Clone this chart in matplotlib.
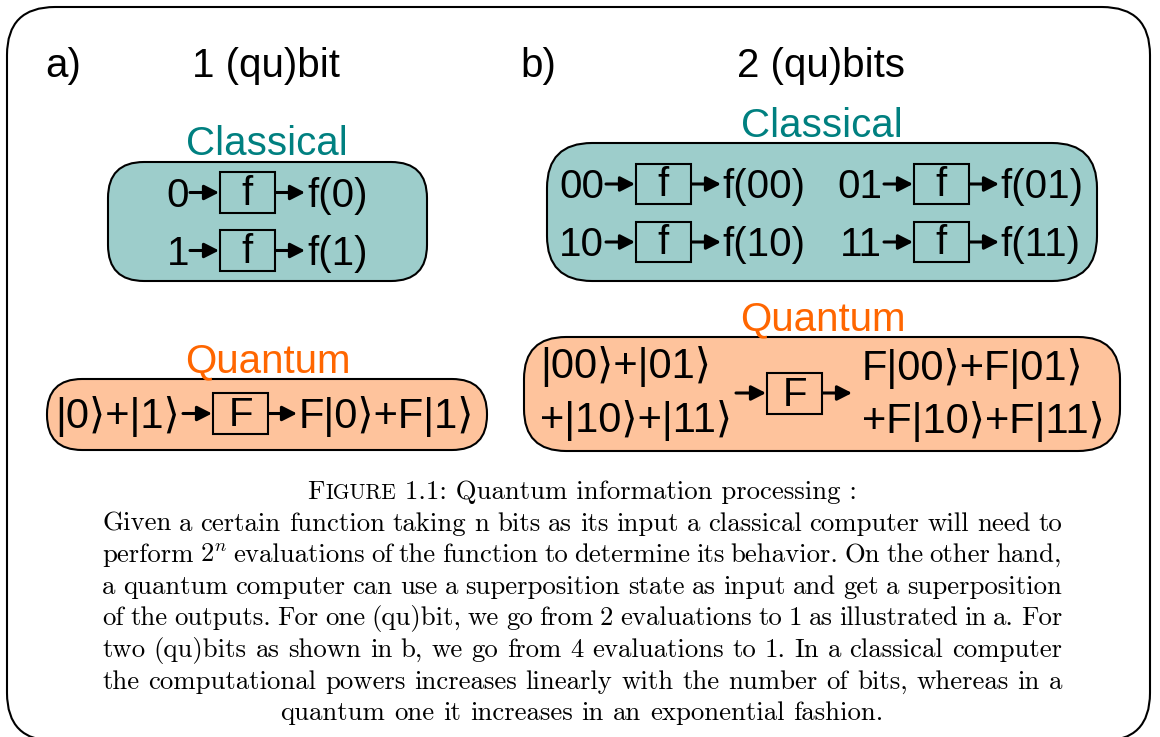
import matplotlib
matplotlib.use("Agg")
import matplotlib.pyplot as plt
from matplotlib.patches import FancyBboxPatch, Rectangle

plt.rcParams['mathtext.fontset'] = 'cm'

SANS = ['Liberation Sans', 'DejaVu Sans']
TEAL_FILL = '#9dcdcb'
TEAL_TEXT = '#008080'
ORANGE_FILL = '#fec39c'
ORANGE_TEXT = '#ff6600'

# labels
panel_labels = ['a)', 'b)']
panel_titles = ['1 (qu)bit', '2 (qu)bits']
group_labels = ['Classical', 'Quantum']

cl1_inputs = ['0', '1']
cl1_outputs = ['f(0)', 'f(1)']
cl2_inputs = ['00', '01', '10', '11']
cl2_outputs = ['f(00)', 'f(01)', 'f(10)', 'f(11)']
q1_input = '|0⟩+|1⟩'
q1_output = 'F|0⟩+F|1⟩'
q2_inputs = ['|00⟩+|01⟩', '+|10⟩+|11⟩']
q2_outputs = ['F|00⟩+F|01⟩', '+F|10⟩+F|11⟩']

caption_head = ['F', 'IGURE', ' 1.1: Quantum information processing :']
caption_lines = [
    "Given a certain function taking n bits as its input a classical computer will need to",
    "perform $2^n$ evaluations of the function to determine its behavior. On the other hand,",
    "a quantum computer can use a superposition state as input and get a superposition",
    "of the outputs. For one (qu)bit, we go from 2 evaluations to 1 as illustrated in a. For",
    "two (qu)bits as shown in b, we go from 4 evaluations to 1. In a classical computer",
    "the computational powers increases linearly with the number of bits, whereas in a",
    "quantum one it increases in an exponential fashion.",
]

fig = plt.figure(figsize=(11.6, 7.37), dpi=100)
ax = fig.add_axes([0, 0, 1, 1])
ax.set_xlim(0, 1160)
ax.set_ylim(737, 0)
ax.axis('off')

FS = 29
QFS = 30


def rbox(x0, y0, x1, y1, r, fc, lw=1.5, z=1):
    ax.add_patch(FancyBboxPatch((x0, y0), x1 - x0, y1 - y0,
                                boxstyle=f"round,pad=0,rounding_size={r}",
                                fc=fc, ec='black', lw=lw, clip_on=False, zorder=z))


def arrow(x0, x1, y):
    ax.annotate('', xy=(x1, y), xytext=(x0, y),
                arrowprops=dict(arrowstyle='-|>,head_length=0.55,head_width=0.28',
                                lw=2.2, color='black', mutation_scale=16,
                                shrinkA=0, shrinkB=0))


def gate(x0, x1, y0, y1, label, size=FS):
    ax.add_patch(Rectangle((x0, y0), x1 - x0, y1 - y0, fc='none', ec='black', lw=1.5))
    ax.text((x0 + x1) / 2, (y0 + y1) / 2 + 1, label, fontsize=size, family=SANS,
            ha='center', va='center')


def chain(xin, a1, g0, g1, a2, xout, gy0, gy1, base, lbl_in, lbl_out, glabel, size=FS):
    ay = (gy0 + gy1) / 2
    ax.text(xin, base, lbl_in, fontsize=size, family=SANS, ha='right', va='baseline')
    arrow(a1, g0 - 1, ay)
    gate(g0, g1, gy0, gy1, glabel, FS)
    arrow(g1 + 1, a2, ay)
    ax.text(xout, base, lbl_out, fontsize=size, family=SANS, ha='left', va='baseline')


# outer frame, bottom edge just below the picture (filled so agg does not clip the curve)
rbox(7, 7, 1150, 741, 48, 'white', lw=1.5, z=0)

# titles
ax.text(45, 77, panel_labels[0], fontsize=FS, family=SANS, va='baseline')
ax.text(266, 77, panel_titles[0], fontsize=FS, family=SANS, ha='center', va='baseline')
ax.text(520, 77, panel_labels[1], fontsize=FS, family=SANS, va='baseline')
ax.text(821, 77, panel_titles[1], fontsize=FS, family=SANS, ha='center', va='baseline')

# a) classical
ax.text(267, 155, group_labels[0], fontsize=FS, family=SANS, color=TEAL_TEXT,
        ha='center', va='baseline')
rbox(108, 162, 427, 281, 36, TEAL_FILL)
for i, (a, b) in enumerate(zip(cl1_inputs, cl1_outputs)):
    gy0 = 172 + i * 58
    chain(189, 190, 220, 275, 305, 307, gy0, gy0 + 41, 207 + i * 58, a, b, 'f')

# a) quantum
ax.text(268, 372, group_labels[1], fontsize=FS, family=SANS, color=ORANGE_TEXT,
        ha='center', va='baseline')
rbox(47, 379, 487, 450, 35, ORANGE_FILL)
chain(180, 183, 213, 268, 297, 299, 393, 434, 428, q1_input, q1_output, 'F', QFS)

# b) classical
ax.text(822, 137, group_labels[0], fontsize=FS, family=SANS, color=TEAL_TEXT,
        ha='center', va='baseline')
rbox(547, 143, 1097, 281, 45, TEAL_FILL)
for i in range(2):
    for j in range(2):
        k = 2 * i + j
        dx = j * 278
        gy0 = 164 + i * 58
        chain(604 + dx, 606 + dx, 636 + dx, 691 + dx, 721 + dx, 722 + dx,
              gy0, gy0 + 40, 198 + i * 58, cl2_inputs[k], cl2_outputs[k], 'f')

# b) quantum
ax.text(823, 330, group_labels[1], fontsize=FS, family=SANS, color=ORANGE_TEXT,
        ha='center', va='baseline')
rbox(524, 337, 1120, 451, 42, ORANGE_FILL)
for i in range(2):
    ax.text(540, 378 + i * 54, q2_inputs[i], fontsize=QFS, family=SANS, va='baseline')
    ax.text(862, 380 + i * 53, q2_outputs[i], fontsize=QFS, family=SANS, va='baseline')
arrow(736, 766, 393)
gate(767, 822, 373, 414, 'F')
arrow(823, 852, 393)

# caption
CF = 'cmr10'
X0, X1 = 102, 1062
fig.canvas.draw()
renderer = fig.canvas.get_renderer()


def width(s, size):
    t = ax.text(0, -200, s, fontsize=size, family=CF)
    w = t.get_window_extent(renderer).width
    t.remove()
    return w


# size taken from the widest line, slightly squeezed spaces like LaTeX
probe = 16
widest = max(width(l, probe) for l in caption_lines)
CFS = probe * (X1 - X0) / widest * 1.04
space = width('a a', CFS) - 2 * width('a', CFS)

base0 = 499
step = 31.6
parts = []
for s, sz in zip(caption_head, [CFS, CFS * 0.8, CFS]):
    parts.append(ax.text(0, base0, s, fontsize=sz, family=CF, va='baseline'))
ws = [p.get_window_extent(renderer).width for p in parts]
x = 582 - sum(ws) / 2
for p, w in zip(parts, ws):
    p.set_x(x)
    x += w

for n, line in enumerate(caption_lines):
    y = base0 + step * (n + 1)
    words = line.split(' ')
    ts = [ax.text(0, y, w, fontsize=CFS, family=CF, va='baseline') for w in words]
    ws = [t.get_window_extent(renderer).width for t in ts]
    if n == len(caption_lines) - 1:
        sp = space
        x = (X0 + X1) / 2 - (sum(ws) + sp * (len(ws) - 1)) / 2
    else:
        sp = (X1 - X0 - sum(ws)) / (len(ws) - 1)
        x = X0
    for t, w in zip(ts, ws):
        t.set_x(x)
        x += w + sp

fig.savefig('out.png', dpi=100)
